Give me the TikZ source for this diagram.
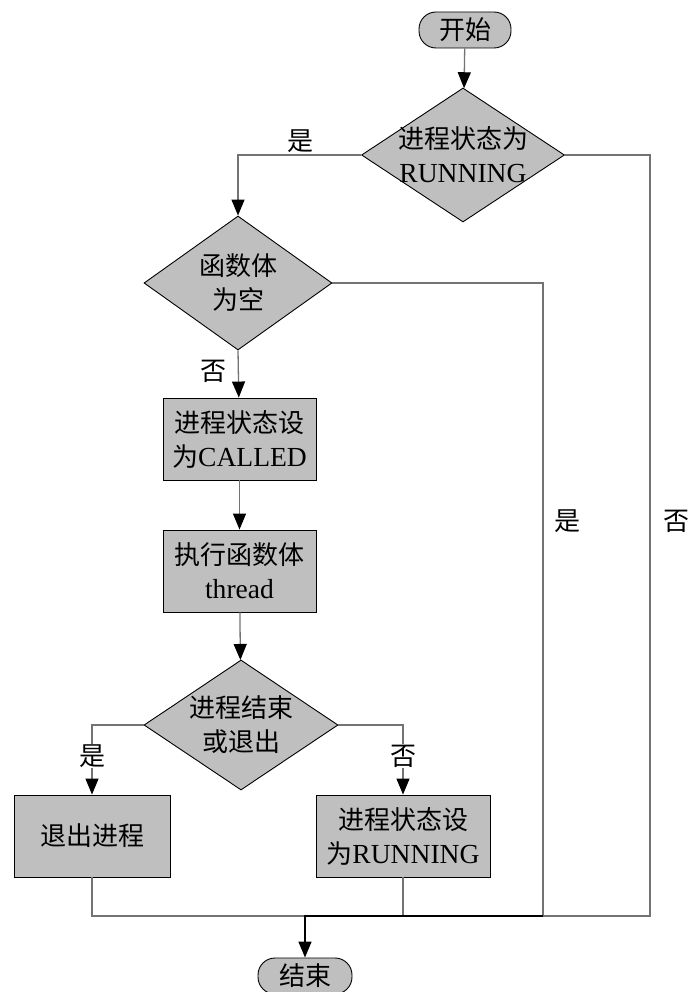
\documentclass[tikz,border=0pt]{standalone}
\usepackage{fontspec}
\setmainfont[Scale=1.06]{Liberation Serif}
\newfontfamily\cjk{Noto Sans CJK SC}
\usetikzlibrary{shapes.geometric,arrows.meta}
\begin{document}
\begin{tikzpicture}[x=1pt,y=-1pt,
  every node/.style={font=\fontsize{26}{34}\selectfont},
  boxfill/.style={fill=black!25,draw=black,line width=0.9pt},
  term/.style={boxfill,rounded corners=17pt,minimum width=92pt,minimum height=36pt,inner sep=0pt},
  proc/.style={boxfill,rectangle,inner sep=0pt,align=center},
  dec/.style={boxfill,diamond,inner sep=0pt},
  txt/.style={align=center,inner sep=0pt},
  lbl/.style={inner sep=1pt},
  link/.style={draw=black!55,line width=1.3pt},
  arr/.style={link,-{Triangle[width=13pt,length=16pt,fill=black,color=black]}},
]
\useasboundingbox (0,0) rectangle (691,992);

% start and end terminals
\node[term] (start) at (465,30) {\cjk 开始};
\node[term,minimum width=94pt] (stop) at (305,976) {\cjk 结束};

% first decision
\node[dec,minimum width=203pt,minimum height=134pt] (d1) at (463,155) {};
\node[txt] (d1t) at (d1) {{\cjk 进程状态为}\\RUNNING};

% second decision
\node[dec,minimum width=188pt,minimum height=134pt] (d2) at (238,283) {};
\node[txt] (d2t) at (d2) {{\cjk 函数体}\\{\cjk 为空}};

% process boxes
\node[proc,minimum width=153pt,minimum height=82pt] (b1) at (239.5,439) {{\cjk 进程状态设}\\{\cjk 为}CALLED};
\node[proc,minimum width=153pt,minimum height=82pt] (b2) at (239.5,571) {{\cjk 执行函数体}\\thread};

% third decision
\node[dec,minimum width=194pt,minimum height=130pt] (d3) at (241,725) {};
\node[txt] (d3t) at (d3) {{\cjk 进程结束}\\{\cjk 或退出}};

% final process boxes
\node[proc,minimum width=156pt,minimum height=82pt] (bq) at (92,836) {\cjk 退出进程};
\node[proc,minimum width=174pt,minimum height=82pt] (br) at (403,836) {{\cjk 进程状态设}\\{\cjk 为}RUNNING};

% junction points of the merging lines
\coordinate (m) at (305,916);
\coordinate (rA) at (650,916);
\coordinate (rB) at (543,916);
\coordinate (lq) at (92,916);
\coordinate (lr) at (403,916);

% connectors
\draw[arr] (start) -- (d1);
\draw[arr] (d1.west) -| (d2.north);
\draw[link] (d1.east) -| (rA) -- (m);
\draw[link] (d2.east) -| (rB);
\draw[arr] (d2.south) -- (b1);
\draw[arr] (b1) -- (b2);
\draw[arr] (b2) -- (d3);
\draw[arr] (d3.west) -| (bq.north);
\draw[arr] (d3.east) -| (br.north);
\draw[link] (bq.south) -- (lq) -- (m);
\draw[link] (br.south) -- (lr);
\draw[line width=1.6pt,-{Triangle[width=13pt,length=16pt]}] (rB) -- (m) -- (stop.north);

% branch labels
\node[lbl] (l1) at (300,141) {\cjk 是};
\node[lbl] (l2) at (567,521) {\cjk 是};
\node[lbl] (l3) at (676,521) {\cjk 否};
\node[lbl] (l4) at (213,371) {\cjk 否};
\node[lbl,fill=white] (l5) at (92,756) {\cjk 是};
\node[lbl,fill=white] (l6) at (403,756) {\cjk 否};
\end{tikzpicture}
\end{document}
